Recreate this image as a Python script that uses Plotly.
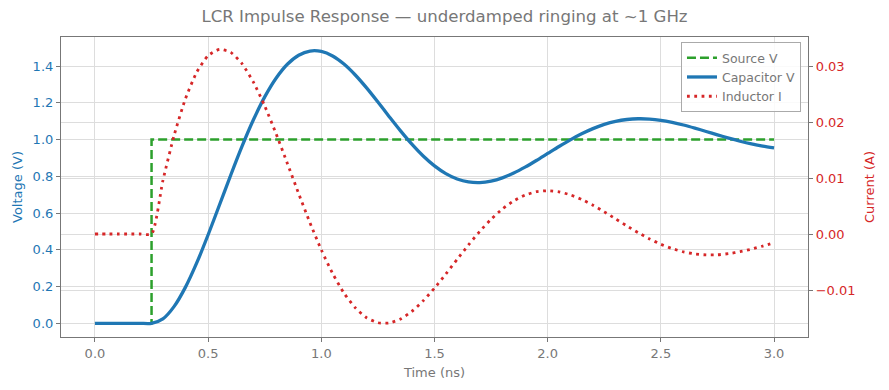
import plotly.graph_objects as go

# Time grid (ns)
time_ns = [round(0.05 * i, 2) for i in range(61)]

# Source step (V)
source_v = [0.0] * 5 + [1.0] * 56

# Capacitor voltage (V)
capacitor_v = [0.0, 0.0, 0.0, 0.0, 0.0,
    0.0, 0.0242, 0.0925, 0.1971, 0.3300, 0.4820, 0.6439, 0.8071, 0.9640, 1.1075,
    1.2321, 1.3337, 1.4098, 1.4590, 1.4818, 1.4795, 1.4546, 1.4106, 1.3512, 1.2809,
    1.2040, 1.1247, 1.0471, 0.9748, 0.9105, 0.8567, 0.8148, 0.7858, 0.7697, 0.7661,
    0.7739, 0.7917, 0.8177, 0.8499, 0.8861, 0.9243, 0.9624, 0.9986, 1.0314, 1.0596,
    1.0823, 1.0989, 1.1091, 1.1132, 1.1116, 1.1048, 1.0936, 1.0792, 1.0623, 1.0441,
    1.0255, 1.0075, 0.9909, 0.9763, 0.9642, 0.9550]

# Inductor current (A)
inductor_i = [0.0, 0.0, 0.0, 0.0, 0.0,
    0.0, 0.00951, 0.01765, 0.02418, 0.02892, 0.03185, 0.03297, 0.03243, 0.03039, 0.02711,
    0.02286, 0.01792, 0.01261, 0.00721, 0.00199, -0.00283, -0.00705, -0.01054, -0.01318, -0.01495,
    -0.01584, -0.01589, -0.01518, -0.01382, -0.01193, -0.00966, -0.00715, -0.00453, -0.00196, 0.00047,
    0.00264, 0.00447, 0.00592, 0.00695, 0.00755, 0.00773, 0.00753, 0.00699, 0.00617, 0.00514,
    0.00396, 0.00270, 0.00144, 0.00023, -0.00087, -0.00183, -0.00261, -0.00319, -0.00356, -0.00373,
    -0.00371, -0.00350, -0.00316, -0.00270, -0.00215, -0.00155]

BLUE = "#1f77b4"
RED = "#d62728"
GREEN = "#2ca02c"
GRAY = "#777777"
GRID = "#dddddd"
FONT = "DejaVu Sans"

fig = go.Figure()
fig.add_trace(go.Scatter(x=time_ns, y=source_v, name="Source V", mode="lines",
                         line=dict(color=GREEN, width=2.5, dash="9px,4px", shape="hv")))
fig.add_trace(go.Scatter(x=time_ns, y=capacitor_v, name="Capacitor V", mode="lines",
                         line=dict(color=BLUE, width=3.3, shape="spline", smoothing=0.8)))
fig.add_trace(go.Scatter(x=time_ns, y=inductor_i, name="Inductor I", mode="lines", yaxis="y2",
                         line=dict(color=RED, width=2.8, dash="2.8px,4.5px", shape="spline", smoothing=0.6)))

# page body has an 8px margin, so the figure is sized to fit inside it
fig.update_layout(
    width=873, height=374,
    margin=dict(l=53, r=73, t=29, b=45, autoexpand=False),
    paper_bgcolor="white", plot_bgcolor="white",
    font=dict(family=FONT, size=13, color=GRAY),
    title=dict(text="LCR Impulse Response — underdamped ringing at ~1 GHz",
               x=0.5, xanchor="center", y=0.977, yanchor="middle",
               font=dict(size=16.6, color=GRAY)),
    xaxis=dict(range=[-0.15, 3.15], tickvals=[0, 0.5, 1, 1.5, 2, 2.5, 3], tickformat=".1f",
               automargin=False,
               title=dict(text="Time (ns)", standoff=8, font=dict(size=13, color=GRAY)),
               showgrid=True, gridcolor=GRID, gridwidth=1, zeroline=False,
               showline=True, linecolor=GRAY, linewidth=1.2, mirror=True,
               ticks="outside", ticklen=4, tickcolor=GRAY, tickfont=dict(color=GRAY, size=13)),
    yaxis=dict(range=[-0.0742, 1.558], tickvals=[0, 0.2, 0.4, 0.6, 0.8, 1.0, 1.2, 1.4], tickformat=".1f",
               automargin=False,
               title=dict(text="Voltage (V)", standoff=7, font=dict(size=13, color=BLUE)),
               showgrid=True, gridcolor=GRID, gridwidth=1, zeroline=False,
               showline=True, linecolor=GRAY, linewidth=1.2,
               ticks="outside", ticklen=4, tickcolor=GRAY, tickfont=dict(color=BLUE, size=13)),
    yaxis2=dict(range=[-0.01839, 0.03518], tickvals=[-0.01, 0, 0.01, 0.02, 0.03], tickformat=".2f",
                overlaying="y", side="right", automargin=False,
                title=dict(text="Current (A)", standoff=10, font=dict(size=13, color=RED)),
                showgrid=True, gridcolor=GRID, gridwidth=1, zeroline=False,
                showline=True, linecolor=GRAY, linewidth=1.2,
                ticks="outside", ticklen=4, tickcolor=GRAY, tickfont=dict(color=RED, size=13)),
    legend=dict(x=0.9906, y=0.983, xanchor="right", yanchor="top",
                bgcolor="rgba(255,255,255,0.85)", bordercolor="#aaaaaa", borderwidth=1,
                font=dict(size=12.5, color=GRAY), tracegroupgap=0, itemwidth=30),
    showlegend=True,
)

fig.write_html("out.html")
